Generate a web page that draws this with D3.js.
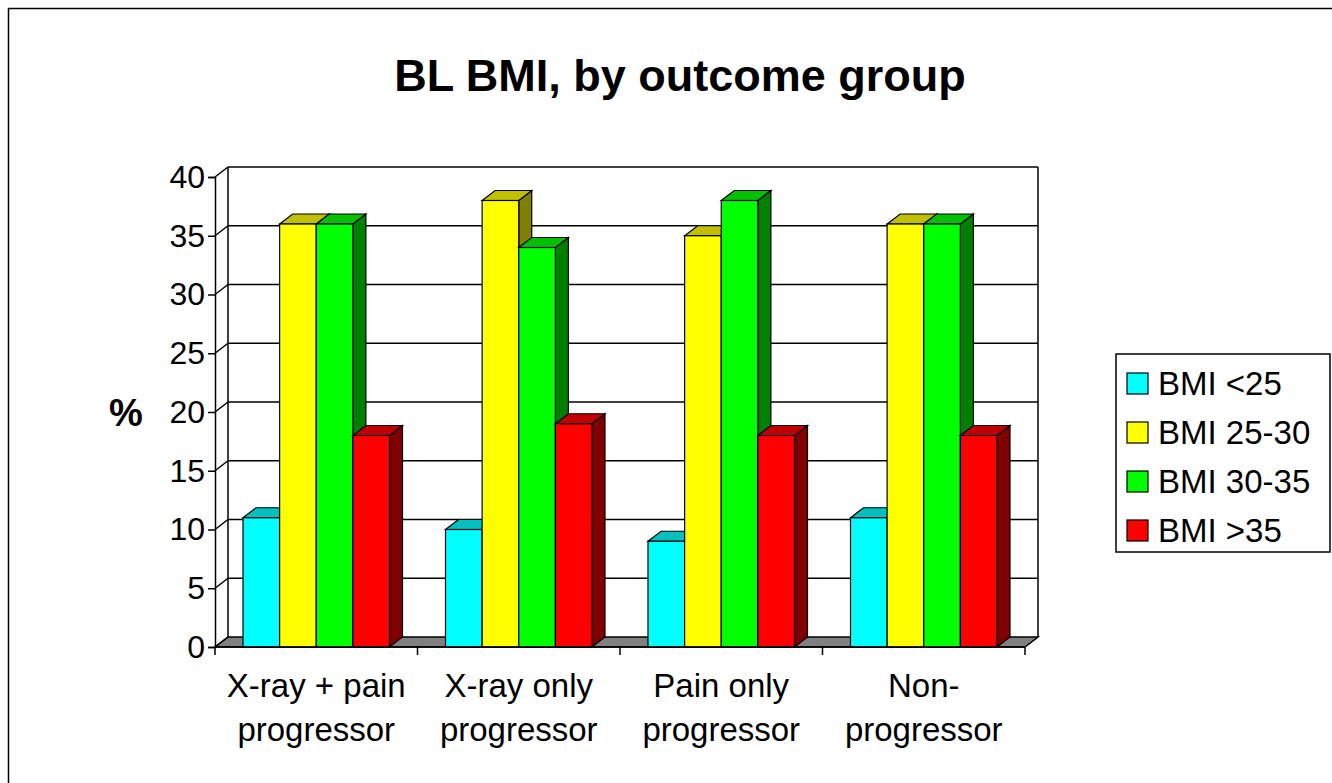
<!DOCTYPE html>
<html lang="en">
<head>
    <meta charset="UTF-8">
    <script src="https://d3js.org/d3.v7.min.js"></script>
    <style>
        body { margin: 0; background: white; font-family: Arial, "Liberation Sans", sans-serif; }
    </style>
</head>
<body>
<script>
    const categories = [["X-ray + pain", "progressor"], ["X-ray only", "progressor"], ["Pain only", "progressor"], ["Non-", "progressor"]]
    const seriesNames = ["BMI <25", "BMI 25-30", "BMI 30-35", "BMI >35"]
    const seriesValues = [
        [11, 10, 9, 11],
        [36, 38, 35, 36],
        [36, 34, 38, 36],
        [18, 19, 18, 18]
    ]
    const yTicks = [0, 5, 10, 15, 20, 25, 30, 35, 40]
    const colors = ["#00ffff", "#ffff00", "#00ff00", "#ff0000"]
    const tops = ["#00c0c0", "#c0c000", "#00c000", "#c00000"]
    const sides = ["#008080", "#808000", "#008000", "#800000"]

    const W = 1332, H = 783
    const dx = 13, dy = -10
    const svg = d3.select("body").append("svg").attr("width", W).attr("height", H)

    svg.append("rect").attr("x", 8.5).attr("y", 8.5).attr("width", 1400).attr("height", 1000)
        .attr("fill", "white").attr("stroke", "black").attr("stroke-width", 1.5)

    svg.append("text").attr("x", 680).attr("y", 91).attr("text-anchor", "middle")
        .attr("font-size", 45).attr("font-weight", "bold").text("BL BMI, by outcome group")

    const y = d3.scaleLinear().domain([0, 40]).range([647, 177])
    const x0 = d3.scaleBand().domain(d3.range(4)).range([215, 1025])
    const x1 = d3.scaleBand().domain(d3.range(4)).range([28, x0.bandwidth() - 28])

    // back wall + gridlines
    const g = svg.append("g")
    g.append("polygon")
        .attr("points", [[215, y(0)], [215 + dx, y(0) + dy], [1025 + dx, y(0) + dy], [1025, y(0)]].join(" "))
        .attr("fill", "#808080").attr("stroke", "black").attr("stroke-width", 1.5)
    yTicks.forEach(t => {
        if (t > 0) {
            g.append("line").attr("x1", 215 + dx).attr("x2", 1025 + dx).attr("y1", y(t) + dy).attr("y2", y(t) + dy)
                .attr("stroke", "black").attr("stroke-width", 1.5)
        }
        g.append("line").attr("x1", 215).attr("x2", 215 + dx).attr("y1", y(t)).attr("y2", y(t) + dy)
            .attr("stroke", "black").attr("stroke-width", 1.5)
    })
    g.append("line").attr("x1", 215 + dx).attr("x2", 215 + dx).attr("y1", y(40) + dy).attr("y2", y(0) + dy)
        .attr("stroke", "black").attr("stroke-width", 1.5)
    g.append("line").attr("x1", 1025 + dx).attr("x2", 1025 + dx).attr("y1", y(40) + dy).attr("y2", y(0) + dy)
        .attr("stroke", "black").attr("stroke-width", 1.5)

    // bars
    const bars = svg.append("g").attr("stroke", "black").attr("stroke-width", 1.2)
    for (let c = 0; c < 4; c++) {
        for (let s = 0; s < 4; s++) {
            const bx = x0(c) + x1(s), bw = x1.bandwidth(), by = y(seriesValues[s][c]), b0 = y(0)
            bars.append("polygon").attr("fill", sides[s])
                .attr("points", [[bx + bw, b0], [bx + bw, by], [bx + bw + dx, by + dy], [bx + bw + dx, b0 + dy]].join(" "))
            bars.append("polygon").attr("fill", tops[s])
                .attr("points", [[bx, by], [bx + dx, by + dy], [bx + bw + dx, by + dy], [bx + bw, by]].join(" "))
            bars.append("rect").attr("x", bx).attr("y", by).attr("width", bw).attr("height", b0 - by).attr("fill", colors[s])
        }
    }

    // axes
    const yAxis = svg.append("g").attr("transform", "translate(215,0)")
        .call(d3.axisLeft(y).tickValues(yTicks).tickSize(7).tickPadding(3))
    yAxis.selectAll("text").attr("font-size", 32).attr("font-family", "Arial, 'Liberation Sans', sans-serif").attr("fill", "black")
    yAxis.selectAll("line, path").attr("stroke", "black").attr("stroke-width", 1.5)

    const xAxis = svg.append("g").attr("transform", "translate(0,647)")
    xAxis.append("line").attr("x1", 215).attr("x2", 1025).attr("stroke", "black").attr("stroke-width", 1.5)
    d3.range(5).forEach(i => {
        const px = 215 + i * x0.step()
        xAxis.append("line").attr("x1", px).attr("x2", px).attr("y1", 0).attr("y2", 8).attr("stroke", "black").attr("stroke-width", 1.5)
    })
    categories.forEach((lines, i) => {
        const t = xAxis.append("text").attr("text-anchor", "middle").attr("font-size", 33)
        lines.forEach((l, k) => t.append("tspan").attr("x", x0(i) + x0.bandwidth() / 2).attr("y", 50 + k * 44).text(l))
    })

    svg.append("text").attr("x", 126).attr("y", 426).attr("text-anchor", "middle")
        .attr("font-size", 38).attr("font-weight", "bold").text("%")

    // legend
    const lg = svg.append("g")
    lg.append("rect").attr("x", 1116).attr("y", 354).attr("width", 214).attr("height", 198)
        .attr("fill", "white").attr("stroke", "black").attr("stroke-width", 1.5)
    seriesNames.forEach((n, i) => {
        const cy = 383 + i * 49
        lg.append("rect").attr("x", 1127).attr("y", cy - 10).attr("width", 21).attr("height", 21)
            .attr("fill", colors[i]).attr("stroke", "black").attr("stroke-width", 1.2)
        lg.append("text").attr("x", 1158).attr("y", cy + 12).attr("font-size", 33).text(n)
    })
</script>
</body>
</html>
